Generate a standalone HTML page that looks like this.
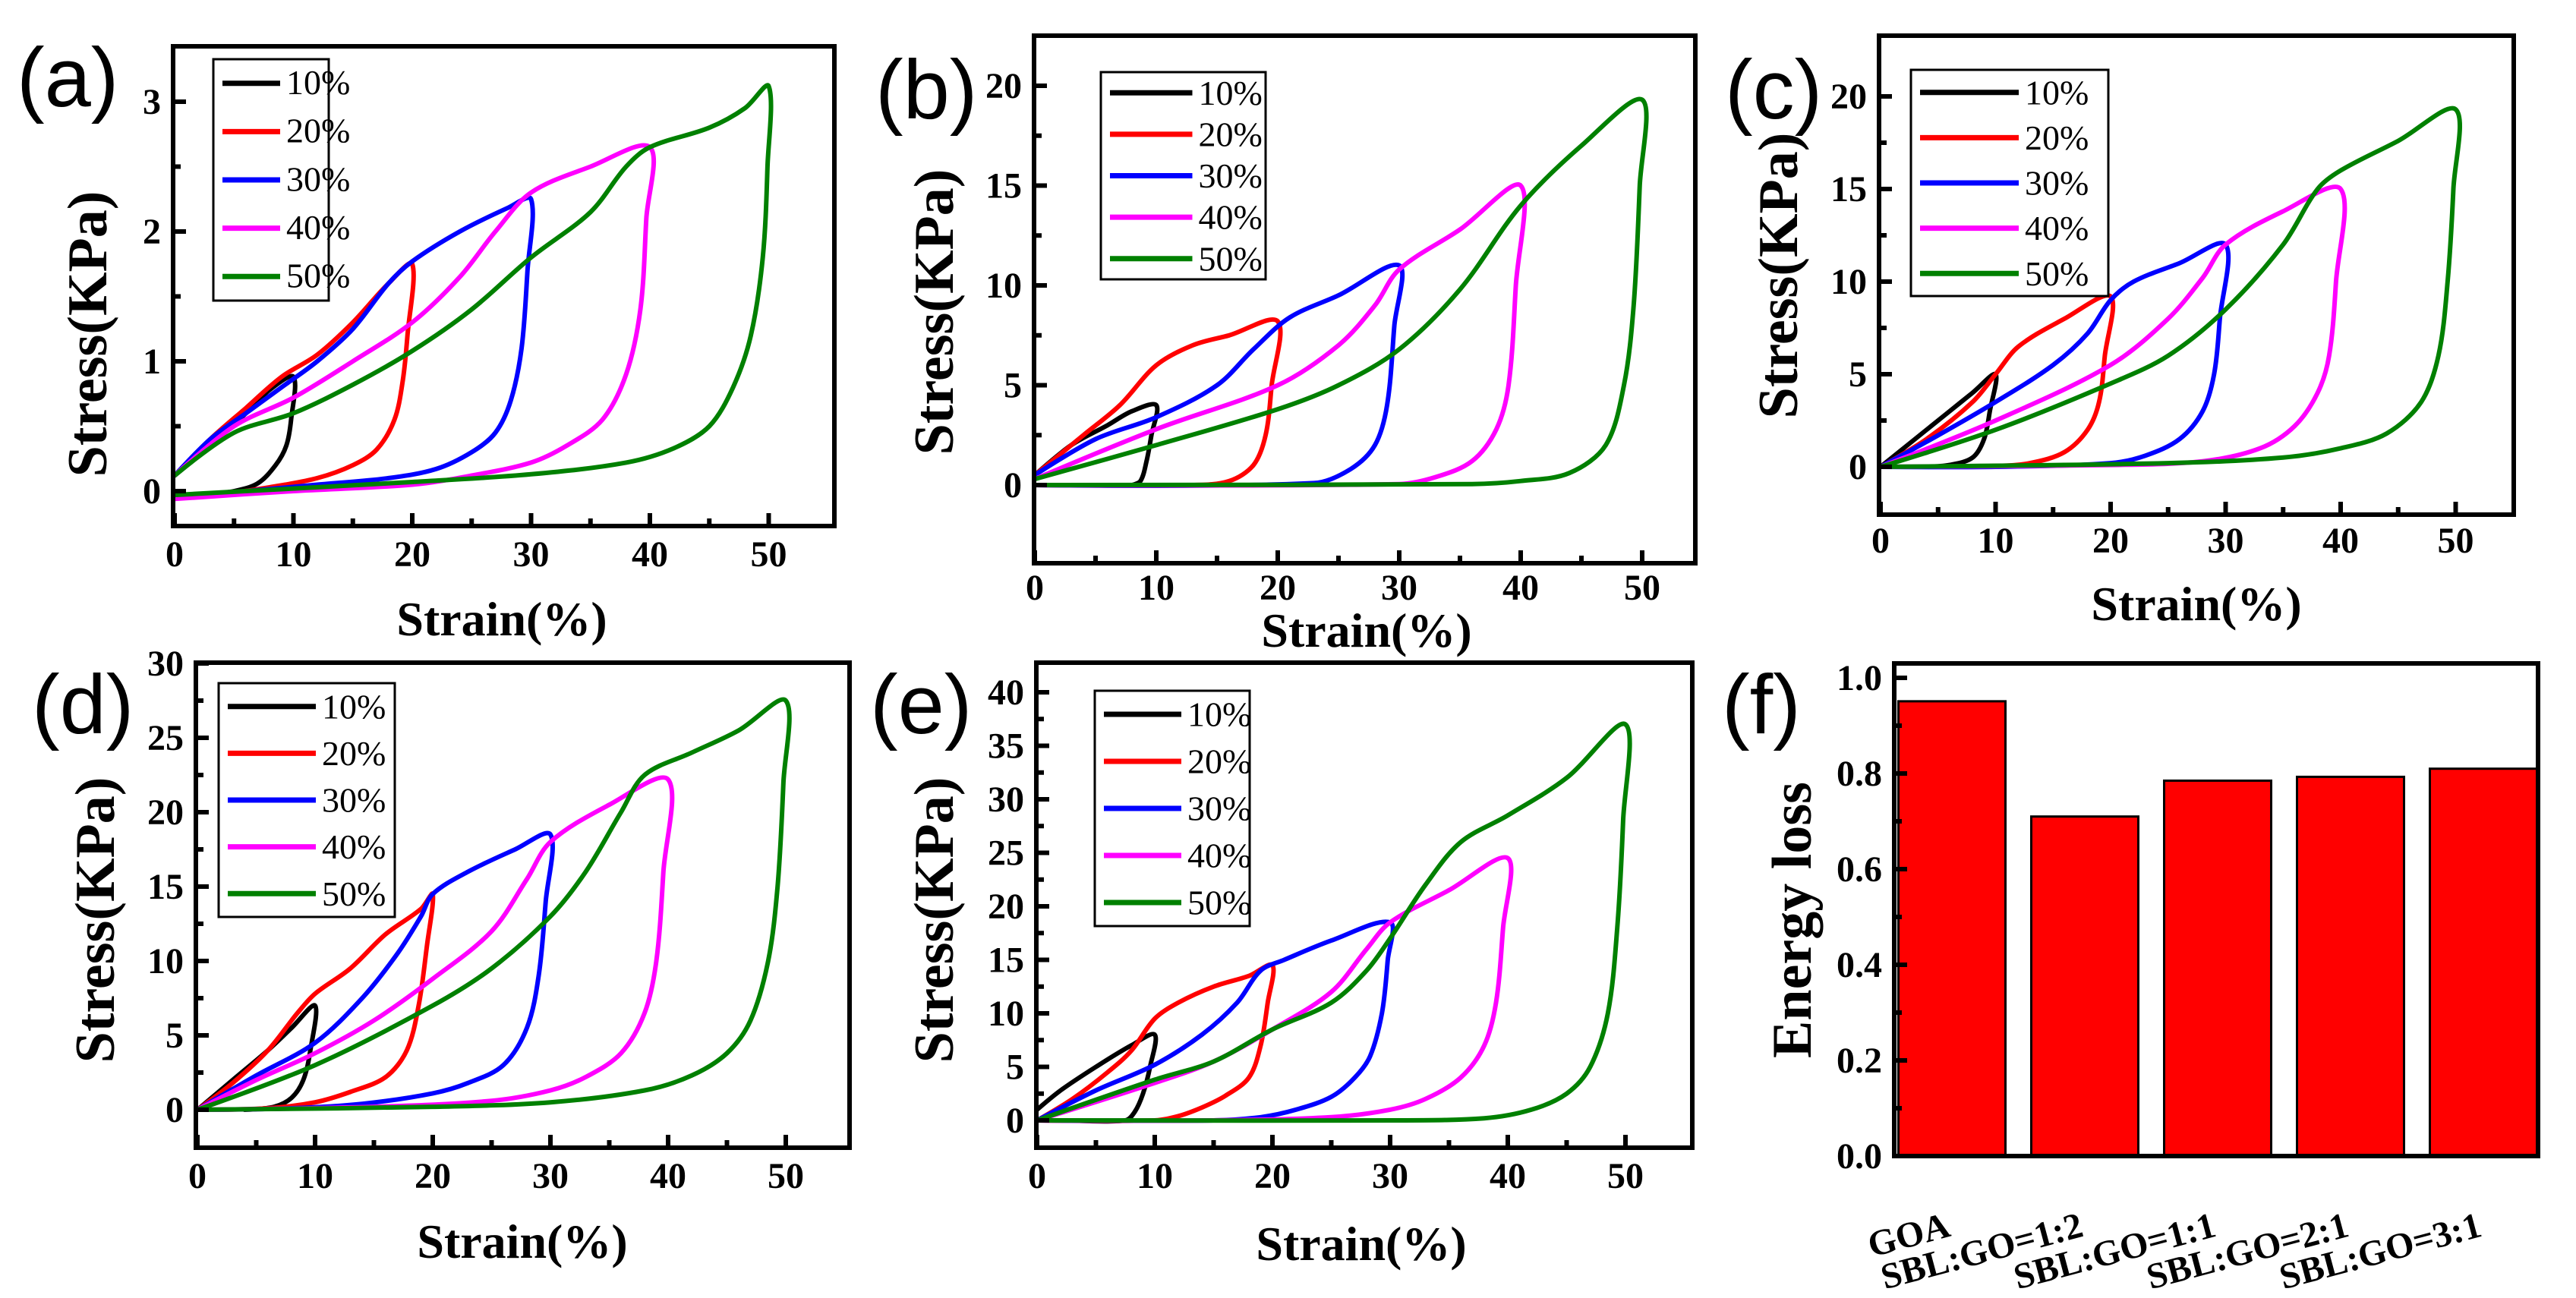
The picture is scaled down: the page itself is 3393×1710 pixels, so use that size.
<!DOCTYPE html>
<html><head><meta charset="utf-8"><style>
html,body{margin:0;padding:0;background:#fff;}
svg{display:block;}
text{font-family:"Liberation Serif",serif;}
.pl{font-family:"Liberation Sans",sans-serif;font-size:110px;}
.tk{font-weight:bold;font-size:48px;}
.ti{font-weight:bold;font-size:64px;}
.yt{font-weight:bold;font-size:74px;}
.lg{font-size:46px;}
</style></head><body>
<svg id="fig" width="3393" height="1710" viewBox="0 0 3393 1710" xmlns="http://www.w3.org/2000/svg"></svg>
<script>
// ---------- data ----------
const seriesNames=["10%","20%","30%","40%","50%"];
const seriesColors=["#000000","#ff0000","#0000ff","#ff00ff","#008000"];
const strainTicks=[0,10,20,30,40,50];
// panel (a)
const a10=[[0,0.12],[3,0.35],[6,0.6],[8,0.78],[10,0.88],[9.8,0.55],[9.4,0.35],[8.5,0.2],[7,0.06],[5,0],[3,-0.02],[0,-0.03]];
const a20=[[0,0.12],[3,0.4],[6,0.64],[9,0.88],[12,1.05],[15,1.3],[18,1.6],[20,1.75],[19.6,1.2],[19.2,0.85],[18.5,0.55],[17,0.32],[15,0.2],[12,0.1],[8,0.03],[4,-0.02],[0,-0.04]];
const a30=[[0,0.12],[3,0.4],[6,0.6],[9,0.8],[12,1.0],[15,1.25],[18,1.6],[20,1.77],[24,2.0],[28,2.18],[30,2.25],[29.7,1.7],[29.2,1.1],[28.3,0.7],[27,0.45],[25,0.3],[22,0.17],[18,0.1],[12,0.05],[6,0],[0,-0.04]];
const a40=[[0,0.12],[5,0.5],[10,0.72],[15,1.0],[20,1.3],[24,1.65],[27,2.0],[30,2.3],[35,2.5],[40,2.65],[39.7,2.1],[39.2,1.4],[38,0.9],[36,0.55],[33,0.35],[30,0.22],[25,0.12],[20,0.05],[10,0],[0,-0.06]];
const a50=[[0,0.12],[5,0.45],[10,0.6],[15,0.82],[20,1.08],[25,1.4],[30,1.8],[35,2.15],[38,2.5],[40,2.65],[45,2.8],[48,2.95],[50,3.12],[49.9,2.5],[49.5,1.8],[48.5,1.2],[47,0.8],[45,0.5],[42,0.33],[38,0.22],[30,0.13],[20,0.07],[10,0.02],[0,-0.03]];
// panel (b)
const b10=[[0,0.5],[3,2],[6,3],[8,3.7],[10,4],[9.6,2.5],[9.2,1.2],[8.7,0.2],[8,0]];
const b20=[[0,0.5],[4,2.5],[7,4],[10,6],[13,7],[16,7.5],[20,8.2],[19.5,5],[19,2.5],[18,1],[16,0.2],[13,0],[0,0]];
const b30=[[0,0.5],[5,2.3],[10,3.4],[15,5],[18,6.8],[21,8.4],[25,9.5],[30,11],[29.6,8],[29,4],[28,2],[26,0.8],[23,0.1],[0,0]];
const b40=[[0,0.3],[10,2.8],[20,5],[25,7],[28,9],[30,10.8],[35,12.8],[40,15],[39.6,10],[39,5],[38,2.8],[36,1.2],[33,0.4],[30,0.05],[0,0]];
const b50=[[0,0.3],[10,2],[20,3.8],[25,5],[30,6.8],[35,9.8],[40,14],[45,17],[50,19.3],[49.8,15],[49.3,9],[48.5,5],[47,2],[44,0.6],[40,0.2],[36,0.05],[0,0]];
// panel (c)
const c10=[[0,0],[3,1.5],[6,3],[8,4],[10,5],[9.5,3],[9,1.5],[8,0.5],[6,0.1],[4,0]];
const c20=[[0,0],[4,1.5],[8,3.5],[10,5],[12,6.5],[16,8],[20,9.2],[19.5,6],[19,3.5],[18,2],[16,0.8],[13,0.2],[10,0.05],[0,0]];
const c30=[[0,0],[5,1.7],[10,3.5],[15,5.5],[18,7.2],[20,9],[22,10],[26,11],[30,12],[29.5,8],[29,5],[28,3],[26,1.5],[23,0.6],[20,0.2],[10,0],[0,0]];
const c40=[[0,0],[10,2.5],[20,5.5],[25,8],[28,10.2],[30,12],[35,13.8],[40,15],[39.6,10],[39,6],[38,4],[36,2.2],[33,1],[28,0.3],[20,0.1],[0,0]];
const c50=[[0,0],[10,2],[20,4.5],[25,6],[30,8.5],[35,12],[38,15],[40,16],[45,17.6],[50,19.3],[49.8,15],[49.3,10],[48.5,6],[47,3.5],[44,1.8],[40,1],[35,0.5],[25,0.2],[0,0]];
// panel (d)
const d10=[[0,0],[3,2],[6,4],[8,5.5],[10,7],[9.6,4],[9,2],[8,0.8],[6.5,0.2],[4,0]];
const d20=[[0,0],[3,1.8],[6,4],[8.5,6.5],[10,7.8],[13,9.5],[16,11.8],[19,13.5],[20,14.5],[19.5,11],[18.8,7],[17.8,4],[16,2.2],[13,1.2],[10,0.5],[6,0.1],[0,0]];
const d30=[[0,0],[5,2.3],[10,4.5],[14,7.5],[17,10.5],[19,13],[20,14.5],[23,16],[27,17.5],[30,18.5],[29.6,14],[29,9],[28,5.5],[26,3],[23,1.8],[20,1.1],[14,0.4],[8,0.1],[0,0]];
const d40=[[0,0],[5,2],[10,3.8],[15,6],[20,8.8],[25,12],[28,15.5],[30,18],[35,20.5],[40,22.2],[39.6,16],[39,10],[38,6.5],[36,3.8],[33,2.2],[30,1.3],[25,0.6],[15,0.2],[0,0]];
const d50=[[0,0],[10,3],[20,7],[25,9.5],[30,13],[33,16],[36,20],[38,22.5],[42,24],[46,25.5],[50,27.5],[49.8,22],[49.3,15],[48.5,10],[47,6],[45,3.8],[42,2.3],[38,1.3],[30,0.5],[20,0.2],[0,0]];
// panel (e)
const e10=[[0,1],[2,2.8],[5,5],[8,7],[10,8],[9.6,5],[9,2.5],[8.3,0.8],[7.5,0],[3,0]];
const e20=[[0,0],[3,2],[6,4.5],[8,6.5],[10,9.5],[12,11],[15,12.5],[18,13.5],[20,14.5],[19.6,11],[19,7],[18,4],[16,2.3],[14,1.2],[12,0.4],[10,0],[0,0]];
const e30=[[0,0],[5,2.8],[10,5.2],[14,8],[17,11],[19,14],[21,15],[25,16.8],[30,18.5],[29.8,15],[29.3,10],[28.3,6],[27,4],[25,2.2],[22,1],[19,0.3],[15,0],[0,0]];
const e40=[[0,0],[10,3.5],[15,5.5],[20,8.5],[25,12],[28,16],[30,18.5],[35,21.5],[40,24.5],[39.6,18],[39,11],[38,7],[36,4],[33,2],[30,1],[25,0.3],[15,0],[0,0]];
const e50=[[0,0],[10,3.8],[15,5.5],[20,8.5],[25,11],[28,14],[30,17],[33,22],[36,26],[40,28.5],[45,32],[50,37],[49.8,28],[49.3,18],[48.5,10],[47,5],[45,2.5],[42,1],[38,0.2],[30,0],[0,0]];
// panel (f)
const barCategories=["GOA","SBL:GO=1:2","SBL:GO=1:1","SBL:GO=2:1","SBL:GO=3:1"];
const barValues=[0.951,0.71,0.785,0.793,0.81];
const fTicks=["0.0","0.2","0.4","0.6","0.8","1.0"];

// ---------- drawing ----------
const NS="http://www.w3.org/2000/svg";
const svg=document.getElementById("fig");
function el(tag,attrs,parent){const e=document.createElementNS(NS,tag);for(const k in attrs)e.setAttribute(k,attrs[k]);(parent||svg).appendChild(e);return e;}
function dist(a,b){return Math.hypot(a[0]-b[0],a[1]-b[1])||1e-6;}
function smoothPath(pts){
  const n=pts.length;
  const tan=pts.map((p,i)=>{
    if(i===0||i===n-1) return [0,0];
    const a=pts[i-1],b=pts[i+1];
    const s=dist(a,p)+dist(p,b);
    return [(b[0]-a[0])/s,(b[1]-a[1])/s];
  });
  let d="M"+pts[0][0].toFixed(1)+","+pts[0][1].toFixed(1);
  for(let i=0;i<n-1;i++){
    const p1=pts[i],p2=pts[i+1],L=dist(p1,p2)/3;
    const c1=[p1[0]+tan[i][0]*L,p1[1]+tan[i][1]*L];
    const c2=[p2[0]-tan[i+1][0]*L,p2[1]-tan[i+1][1]*L];
    d+=" C"+c1[0].toFixed(1)+","+c1[1].toFixed(1)+" "+c2[0].toFixed(1)+","+c2[1].toFixed(1)+" "+p2[0].toFixed(1)+","+p2[1].toFixed(1);
  }
  return d;
}

const panels=[
 {id:"a",L:228,T:61,R:1099,B:693,x0:230,xs:15.65,y0:647,ys:171,yMaj:[0,1,2,3],yMin:[0.5,1.5,2.5],loops:[a10,a20,a30,a40,a50],
  lab:[22,140],leg:[281,78,433,396],legFont:42,xlb:746,tx:[661,837],sy:[140,440]},
 {id:"b",L:1362,T:47,R:2233,B:742,x0:1363,xs:16.0,y0:639,ys:26.3,yMaj:[0,5,10,15,20],yMin:[2.5,7.5,12.5,17.5],loops:[b10,b20,b30,b40,b50],
  lab:[1153,156],leg:[1450,95,1667,368],legFont:46,xlb:790,tx:[1800,852],sy:[1255,411]},
 {id:"c",L:2475,T:47,R:3311,B:678,x0:2477,xs:15.15,y0:615,ys:24.4,yMaj:[0,5,10,15,20],yMin:[2.5,7.5,12.5,17.5],loops:[c10,c20,c30,c40,c50],
  lab:[2272,156],leg:[2517,92,2777,390],legFont:46,xlb:728,tx:[2893,817],sy:[2367,363]},
 {id:"d",L:258,T:873,R:1119,B:1512,x0:260,xs:15.5,y0:1462,ys:19.6,yMaj:[0,5,10,15,20,25,30],yMin:[2.5,7.5,12.5,17.5,22.5,27.5],loops:[d10,d20,d30,d40,d50],
  lab:[42,966],leg:[288,900,520,1208],legFont:46,xlb:1565,tx:[688,1657],sy:[150,1212]},
 {id:"e",L:1365,T:873,R:2229,B:1512,x0:1366,xs:15.5,y0:1476,ys:14.1,yMaj:[0,5,10,15,20,25,30,35,40],yMin:[2.5,7.5,12.5,17.5,22.5,27.5,32.5,37.5],loops:[e10,e20,e30,e40,e50],
  lab:[1146,966],leg:[1442,910,1646,1220],legFont:46,xlb:1565,tx:[1793,1660],sy:[1255,1212]}
];

panels.forEach(p=>{
  const g=el("g",{});
  
  
  const X=v=>p.x0+v*p.xs, Y=v=>p.y0-v*p.ys;
  p.loops.forEach((lp,i)=>{
    const path=el("path",{d:smoothPath(lp.map(q=>[X(q[0]),Y(q[1])])),fill:"none",stroke:seriesColors[i],"stroke-width":6,"stroke-linejoin":"round","stroke-linecap":"round"},g);
    
    
  });
  const fr=el("rect",{x:p.L,y:p.T,width:p.R-p.L,height:p.B-p.T,fill:"none",stroke:"#000","stroke-width":6},g);
  
  
  p.yMaj.forEach(v=>{
    el("line",{x1:p.L,x2:p.L+17,y1:Y(v),y2:Y(v),stroke:"#000","stroke-width":6},g);
    const t=el("text",{x:p.L-16,y:Y(v)+16,"text-anchor":"end",class:"tk"},g);t.textContent=v;
    
    
  });
  p.yMin.forEach(v=>{el("line",{x1:p.L,x2:p.L+10,y1:Y(v),y2:Y(v),stroke:"#000","stroke-width":6},g);});
  strainTicks.forEach(v=>{
    el("line",{x1:X(v),x2:X(v),y1:p.B,y2:p.B-17,stroke:"#000","stroke-width":6},g);
    if(v<50) el("line",{x1:X(v+5),x2:X(v+5),y1:p.B,y2:p.B-10,stroke:"#000","stroke-width":6},g);
    const t=el("text",{x:X(v),y:p.xlb,"text-anchor":"middle",class:"tk"},g);t.textContent=v;
    
    
  });
  const xt=el("text",{x:p.tx[0],y:p.tx[1],"text-anchor":"middle",class:"ti"},g);xt.textContent="Strain(%)";
  
  
  const yt=el("text",{x:p.sy[0],y:p.sy[1],"text-anchor":"middle",class:"yt",transform:"rotate(-90 "+p.sy[0]+" "+p.sy[1]+")"},g);yt.textContent="Stress(KPa)";
  
  
  const pl=el("text",{x:p.lab[0],y:p.lab[1],class:"pl"},g);pl.textContent="("+p.id+")";
  
  
  const [lx1,ly1,lx2,ly2]=p.leg;
  const lg=el("g",{},g);
  
  
  el("rect",{x:lx1,y:ly1,width:lx2-lx1,height:ly2-ly1,fill:"#fff",stroke:"#000","stroke-width":3},lg);
  const pitch=(ly2-ly1)/5, lineW=(lx2-lx1)*0.5;
  seriesNames.forEach((n,i)=>{
    const cy=ly1+pitch*(i+0.5);
    const e=el("g",{},lg);
    
    
    el("line",{x1:lx1+12,x2:lx1+12+lineW,y1:cy,y2:cy,stroke:seriesColors[i],"stroke-width":7},e);
    const t=el("text",{x:lx1+20+lineW,y:cy+p.legFont*0.34,class:"lg","font-size":p.legFont},e);t.textContent=n;
  });
});

// panel (f) bar chart
(function(){
  const L=2495,T=874,R=3343,B=1523,y0=1523,ys=630,c0=2571,pitch=175,bw=141;
  const g=el("g",{});
  
  
  const Y=v=>y0-v*ys;
  barValues.forEach((v,i)=>{
    const r=el("rect",{x:c0+i*pitch-bw/2,y:Y(v),width:bw,height:y0-Y(v),fill:"#ff0000",stroke:"#000","stroke-width":3},g);
    
    
    const cx=c0+i*pitch, cy=1628;
    const t=el("text",{x:cx,y:cy,"text-anchor":"end",class:"tk","font-size":62,transform:"rotate(-15 "+cx+" "+cy+")"},g);
    t.textContent=barCategories[i];
    
    
  });
  const fr=el("rect",{x:L,y:T,width:R-L,height:B-T,fill:"none",stroke:"#000","stroke-width":6},g);
  
  
  fTicks.forEach(s=>{
    const v=parseFloat(s);
    el("line",{x1:L,x2:L+17,y1:Y(v),y2:Y(v),stroke:"#000","stroke-width":6},g);
    if(v<1) el("line",{x1:L,x2:L+10,y1:Y(v+0.1),y2:Y(v+0.1),stroke:"#000","stroke-width":6},g);
    const t=el("text",{x:L-16,y:Y(v)+16,"text-anchor":"end",class:"tk"},g);t.textContent=s;
    
    
  });
  const yt=el("text",{x:2385,y:1212,"text-anchor":"middle",class:"yt",transform:"rotate(-90 2385 1212)"},g);yt.textContent="Energy loss";
  
  
  const pl=el("text",{x:2268,y:966,class:"pl"},g);pl.textContent="(f)";
  
  
})();
</script>
</body></html>
